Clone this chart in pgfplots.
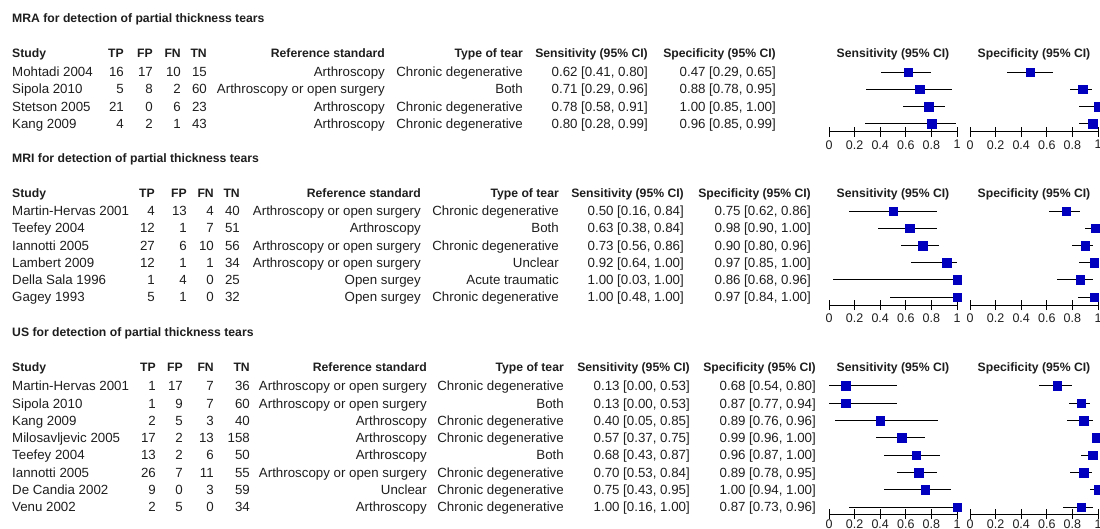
\documentclass[border=0pt]{standalone}
\usepackage{fontspec}
\setmainfont{Liberation Sans}
\usepackage{pgfplots}
\usepackage{pgfplotstable}
\pgfplotsset{compat=1.18}

\definecolor{ink}{RGB}{30,30,30}
\definecolor{sqblue}{RGB}{0,0,190}

% forest plot data: point estimate and 95% CI
\pgfplotstableread{
row sens slo shi spec plo phi
1 0.62 0.41 0.80 0.47 0.29 0.65
2 0.71 0.29 0.96 0.88 0.78 0.95
3 0.78 0.58 0.91 1.00 0.85 1.00
4 0.80 0.28 0.99 0.96 0.85 0.99
}\mra
\pgfplotstableread{
row sens slo shi spec plo phi
1 0.50 0.16 0.84 0.75 0.62 0.86
2 0.63 0.38 0.84 0.98 0.90 1.00
3 0.73 0.56 0.86 0.90 0.80 0.96
4 0.92 0.64 1.00 0.97 0.85 1.00
5 1.00 0.03 1.00 0.86 0.68 0.96
6 1.00 0.48 1.00 0.97 0.84 1.00
}\mri
\pgfplotstableread{
row sens slo shi spec plo phi
1 0.13 0.00 0.53 0.68 0.54 0.80
2 0.13 0.00 0.53 0.87 0.77 0.94
3 0.40 0.05 0.85 0.89 0.76 0.96
4 0.57 0.37 0.75 0.99 0.96 1.00
5 0.68 0.43 0.87 0.96 0.87 1.00
6 0.70 0.53 0.84 0.89 0.78 0.95
7 0.75 0.43 0.95 1.00 0.94 1.00
8 1.00 0.16 1.00 0.87 0.73 0.96
}\us

\pgfplotsset{
  forest/.style={
    scale only axis, width=128pt, xmin=0, xmax=1, ymax=-0.5,
    axis x line=bottom, axis y line=none, ytick=\empty,
    x axis line style={-, black, line width=0.8pt},
    xtick={0,0.2,0.4,0.6,0.8,1},
    xticklabels={0,0.2,0.4,0.6,0.8,1},
    tick align=center, major tick length=10pt,
    tick style={black, line width=0.8pt},
    xticklabel shift=2.5pt,
    xticklabel style={font=\fontsize{12.5}{14}\selectfont, text=ink, inner sep=1pt},
    /pgf/number format/assume math mode=true,
    clip=false, anchor=south west,
  },
  ci/.style={only marks, mark=square*, mark size=4.3pt,
    mark options={fill=sqblue, draw=sqblue},
    error bars/.cd, x dir=both, x explicit, error mark=none,
    error bar style={black, line width=0.8pt}},
}

% text columns
\newcommand\header[1]{%
  \node[L,B] at (12,#1+4.4) {Study};
  \node[R,B] at (\cTP,#1+4.4) {TP};
  \node[R,B] at (\cFP,#1+4.4) {FP};
  \node[R,B] at (\cFN,#1+4.4) {FN};
  \node[R,B] at (\cTN,#1+4.4) {TN};
  \node[R,B] at (\cRS,#1+4.4) {Reference standard};
  \node[R,B] at (\cTy,#1+4.4) {Type of tear};
  \node[R,B] at (\cSe,#1+4.4) {Sensitivity (95\% CI)};
  \node[R,B] at (\cSp,#1+4.4) {Specificity (95\% CI)};
  \node[anchor=base, inner sep=0pt, B] at (893,#1+4.4) {Sensitivity (95\% CI)};
  \node[anchor=base, inner sep=0pt, B] at (1034,#1+4.4) {Specificity (95\% CI)};}
\newcommand\trow{%
  \node[L] at (12,\yy) {\st};
  \node[R] at (\cTP,\yy) {\tp};
  \node[R] at (\cFP,\yy) {\fp};
  \node[R] at (\cFN,\yy) {\fn};
  \node[R] at (\cTN,\yy) {\tn};
  \node[R] at (\cRS,\yy) {\rs};
  \node[R] at (\cTy,\yy) {\ty};
  \node[R] at (\cSe,\yy) {\se{} [\sl, \sh]};
  \node[R] at (\cSp,\yy) {\sp{} [\pl, \ph]};}

\begin{document}
\begin{tikzpicture}[font=\fontsize{13.3}{15}\selectfont, text=ink]
\useasboundingbox (0pt,0pt) rectangle (1100pt,-528pt);
\begin{scope}[x=1pt, y=-1pt,
  L/.style={anchor=base west, inner sep=0pt},
  R/.style={anchor=base east, inner sep=0pt},
  B/.style={font=\fontsize{12.2}{14}\selectfont\bfseries}]
% MRA
\node[L,B] at (12,22.6) {MRA for detection of partial thickness tears};
\def\cTP{124}\def\cFP{153}\def\cFN{181}\def\cTN{207}\def\cRS{385}\def\cTy{523}\def\cSe{648}\def\cSp{776}
\header{53}
\foreach \i/\st/\tp/\fp/\fn/\tn/\rs/\ty/\se/\sl/\sh/\sp/\pl/\ph in {
1/Mohtadi 2004/16/17/10/15/Arthroscopy/Chronic degenerative/0.62/0.41/0.80/0.47/0.29/0.65,
2/Sipola 2010/5/8/2/60/Arthroscopy or open surgery/Both/0.71/0.29/0.96/0.88/0.78/0.95,
3/Stetson 2005/21/0/6/23/Arthroscopy/Chronic degenerative/0.78/0.58/0.91/1.00/0.85/1.00,
4/Kang 2009/4/2/1/43/Arthroscopy/Chronic degenerative/0.80/0.28/0.99/0.96/0.85/0.99}
{\pgfmathsetmacro\yy{72+17.2*(\i-1)+4.7}\trow}
% MRI
\node[L,B] at (12,162.6) {MRI for detection of partial thickness tears};
\def\cTP{155}\def\cFP{187}\def\cFN{214}\def\cTN{240}\def\cRS{421}\def\cTy{559}\def\cSe{684}\def\cSp{811}
\header{193}
\foreach \i/\st/\tp/\fp/\fn/\tn/\rs/\ty/\se/\sl/\sh/\sp/\pl/\ph in {
1/Martin-Hervas 2001/4/13/4/40/Arthroscopy or open surgery/Chronic degenerative/0.50/0.16/0.84/0.75/0.62/0.86,
2/Teefey 2004/12/1/7/51/Arthroscopy/Both/0.63/0.38/0.84/0.98/0.90/1.00,
3/Iannotti 2005/27/6/10/56/Arthroscopy or open surgery/Chronic degenerative/0.73/0.56/0.86/0.90/0.80/0.96,
4/Lambert 2009/12/1/1/34/Arthroscopy or open surgery/Unclear/0.92/0.64/1.00/0.97/0.85/1.00,
5/Della Sala 1996/1/4/0/25/Open surgey/Acute traumatic/1.00/0.03/1.00/0.86/0.68/0.96,
6/Gagey 1993/5/1/0/32/Open surgey/Chronic degenerative/1.00/0.48/1.00/0.97/0.84/1.00}
{\pgfmathsetmacro\yy{211+17.2*(\i-1)+4.7}\trow}
% US
\node[L,B] at (12,336.6) {US for detection of partial thickness tears};
\def\cTP{156}\def\cFP{183}\def\cFN{214}\def\cTN{250}\def\cRS{427}\def\cTy{564}\def\cSe{690}\def\cSp{816}
\header{367}
\foreach \i/\st/\tp/\fp/\fn/\tn/\rs/\ty/\se/\sl/\sh/\sp/\pl/\ph in {
1/Martin-Hervas 2001/1/17/7/36/Arthroscopy or open surgery/Chronic degenerative/0.13/0.00/0.53/0.68/0.54/0.80,
2/Sipola 2010/1/9/7/60/Arthroscopy or open surgery/Both/0.13/0.00/0.53/0.87/0.77/0.94,
3/Kang 2009/2/5/3/40/Arthroscopy/Chronic degenerative/0.40/0.05/0.85/0.89/0.76/0.96,
4/Milosavljevic 2005/17/2/13/158/Arthroscopy/Chronic degenerative/0.57/0.37/0.75/0.99/0.96/1.00,
5/Teefey 2004/13/2/6/50/Arthroscopy/Both/0.68/0.43/0.87/0.96/0.87/1.00,
6/Iannotti 2005/26/7/11/55/Arthroscopy or open surgery/Chronic degenerative/0.70/0.53/0.84/0.89/0.78/0.95,
7/De Candia 2002/9/0/3/59/Unclear/Chronic degenerative/0.75/0.43/0.95/1.00/0.94/1.00,
8/Venu 2002/2/5/0/34/Arthroscopy/Chronic degenerative/1.00/0.16/1.00/0.87/0.73/0.96}
{\pgfmathsetmacro\yy{386+17.3*(\i-1)+4.7}\trow}
\end{scope}

% forest plots
\begin{axis}[forest, y=17.2pt, ymin=-4.465, at={(829pt,-131.6pt)}]
\addplot[ci] table[x=sens, y expr=-\thisrow{row},
  x error plus expr=\thisrow{shi}-\thisrow{sens},
  x error minus expr=\thisrow{sens}-\thisrow{slo}] {\mra};
\end{axis}
\begin{axis}[forest, y=17.2pt, ymin=-4.465, at={(970pt,-131.6pt)}]
\addplot[ci] table[x=spec, y expr=-\thisrow{row},
  x error plus expr=\thisrow{phi}-\thisrow{spec},
  x error minus expr=\thisrow{spec}-\thisrow{plo}] {\mra};
\end{axis}
\begin{axis}[forest, y=17.2pt, ymin=-6.465, at={(829pt,-305pt)}]
\addplot[ci] table[x=sens, y expr=-\thisrow{row},
  x error plus expr=\thisrow{shi}-\thisrow{sens},
  x error minus expr=\thisrow{sens}-\thisrow{slo}] {\mri};
\end{axis}
\begin{axis}[forest, y=17.2pt, ymin=-6.465, at={(970pt,-305pt)}]
\addplot[ci] table[x=spec, y expr=-\thisrow{row},
  x error plus expr=\thisrow{phi}-\thisrow{spec},
  x error minus expr=\thisrow{spec}-\thisrow{plo}] {\mri};
\end{axis}
\begin{axis}[forest, y=17.3pt, ymin=-8.405, at={(829pt,-514pt)}, xticklabel shift=0pt]
\addplot[ci] table[x=sens, y expr=-\thisrow{row},
  x error plus expr=\thisrow{shi}-\thisrow{sens},
  x error minus expr=\thisrow{sens}-\thisrow{slo}] {\us};
\end{axis}
\begin{axis}[forest, y=17.3pt, ymin=-8.405, at={(970pt,-514pt)}, xticklabel shift=0pt]
\addplot[ci] table[x=spec, y expr=-\thisrow{row},
  x error plus expr=\thisrow{phi}-\thisrow{spec},
  x error minus expr=\thisrow{spec}-\thisrow{plo}] {\us};
\end{axis}
\end{tikzpicture}
\end{document}
